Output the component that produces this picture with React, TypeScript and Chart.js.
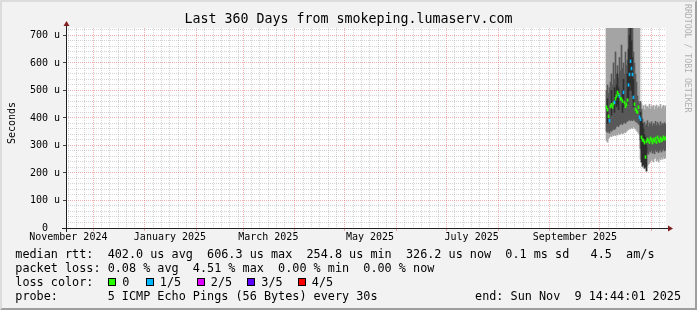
import React, { useEffect, useRef } from 'react';
import { Chart, registerables } from 'chart.js';

Chart.register(...registerables);

const MONO = "'DejaVu Sans Mono', monospace";

// ---- text ----
const TITLE = 'Last 360 Days from smokeping.lumaserv.com';
const Y_AXIS_TITLE = 'Seconds';
const WATERMARK = 'RRDTOOL / TOBI OETIKER';
const legendLine1 = 'median rtt:  402.0 us avg  606.3 us max  254.8 us min  326.2 us now  0.1 ms sd   4.5  am/s';
const legendLine2 = 'packet loss: 0.08 % avg  4.51 % max  0.00 % min  0.00 % now';
const lossTitle = 'loss color:';
const lossLabels = ['0', '1/5', '2/5', '3/5', '4/5'];
const lossColors = ['#26ff00', '#00b8ff', '#dd00ff', '#5e00ff', '#ff0000'];
const probeLine = 'probe:       5 ICMP Echo Pings (56 Bytes) every 30s';
const endLine = 'end: Sun Nov  9 14:44:01 2025';

// ---- time axis ----
const END_UTC = Date.UTC(2025, 10, 9, 14, 44, 1);
const SPAN_DAYS = 360;
const DAY_MS = 86400000;
const START_UTC = END_UTC - SPAN_DAYS * DAY_MS;

const monthStarts = [
  '2024-11-01', '2024-12-01', '2025-01-01', '2025-02-01', '2025-03-01', '2025-04-01',
  '2025-05-01', '2025-06-01', '2025-07-01', '2025-08-01', '2025-09-01', '2025-10-01', '2025-11-01',
];
const minorDaysOfMonth = [6, 11, 16, 21, 26];
const labelledMonths = ['2024-11-01', '2025-01-01', '2025-03-01', '2025-05-01', '2025-07-01', '2025-09-01'];
const monthLabels = ['November 2024', 'January 2025', 'March 2025', 'May 2025', 'July 2025', 'September 2025'];
const LABEL_DAY_OF_MONTH = 16;

// ---- value axis (microseconds) ----
const Y_MAX = 727;
const yTickValues = [0, 20, 40, 60, 80, 100, 120, 140, 160, 180, 200, 220, 240, 260, 280, 300, 320, 340, 360, 380, 400,
  420, 440, 460, 480, 500, 520, 540, 560, 580, 600, 620, 640, 660, 680, 700, 720];
const Y_LABEL_STEP = 100;

// ---- samples (one per consolidated step, values in us) ----
const FIRST_SAMPLE_DAY = 324.3;
const SAMPLE_STEP_DAYS = 0.6;

const lightLo = [318, 312, 325, 330, 335, 332, 338, 335, 340, 336, 342, 338, 345, 340, 343, 347, 342, 345, 350, 346,
  352, 355, 358, 362, 360, 365, 362, 368, 365, 360, 355, 350, 345, 340,
  250, 238, 222, 228, 215, 220, 205, 226, 232, 236, 242, 250, 246, 240, 252, 256, 244, 250, 240, 254, 248, 256, 250, 258, 252, 256];
const lightHi = [905, 880, 920, 870, 940, 890, 910, 875, 930, 900, 885, 950, 895, 915, 880, 925, 900, 870, 935, 905,
  890, 945, 910, 880, 960, 900, 920, 875, 905, 890, 930, 880, 915, 870,
  440, 452, 435, 445, 430, 448, 438, 442, 436, 450, 432, 444, 438, 446, 430, 441, 447, 435, 443, 438, 449, 433, 440, 446, 437, 444];
const darkLo = [352, 348, 350, 345, 355, 352, 356, 360, 358, 362, 370, 372, 368, 375, 378, 380, 376, 382, 384, 380,
  386, 388, 392, 395, 390, 394, 390, 396, 392, 388, 385, 382, 378, 375,
  290, 280, 260, 250, 255, 262, 270, 275, 268, 280, 276, 284, 272, 280, 270, 285, 278, 282, 274, 280, 286, 276, 282, 288, 280, 284];
const darkHi = [500, 520, 490, 510, 530, 560, 520, 600, 540, 640, 560, 590, 545, 620, 570, 665, 580, 600, 560, 640,
  590, 610, 800, 800, 800, 800, 800, 640, 600, 560, 530, 480, 460, 450,
  460, 430, 395, 380, 385, 372, 378, 390, 368, 382, 376, 386, 370, 380, 375, 388, 372, 384, 378, 370, 386, 374, 380, 376, 383, 378];
const coreLo = [null, 380, null, null, null, 410, null, null, 420, null, 440, 450, 430, null, null, null, 420, 440, null, null,
  null, 450, 470, 500, 520, 500, 480, 440, null, null, null, null, null, null,
  320, 240, 225, 230, 218, 222, 208, null, null, null, null, null, null, null, null, null, null, null, null, null, null, null, null, null, null, null];
const coreHi = [null, 470, null, null, null, 500, null, null, 510, null, 520, 560, 510, null, null, null, 500, 540, null, null,
  null, 560, 650, 700, 760, 680, 620, 540, null, null, null, null, null, null,
  420, 400, 380, 360, 340, 330, 300, null, null, null, null, null, null, null, null, null, null, null, null, null, null, null, null, null, null, null];
const median = [439, 430, 406, 390, 442, 448, 440, 452, 457, 470, 480, 493, 485, 479, 470, 468, 461, 493, 455, 442,
  450, 465, 520, 558, 606, 580, 558, 475, 450, 432, 425, 421, 439, 403,
  395, 330, 320, 318, 310, 258, 315, 322, 318, 312, 326, 320, 310, 322, 316, 325, 312, 330, 320, 315, 326, 318, 322, 330, 324, 326];
const lossLevel = [0, 0, 0, 1, 0, 0, 0, 0, 1, 0, 0, 0, 0, 1, 0, 0, 0, 1, 0, 0,
  0, 0, 1, 1, 1, 1, 1, 1, 0, 0, 0, 0, 0, 1,
  1, 0, 0, 0, 0, 0, 0, 0, 0, 0, 0, 0, 0, 0, 0, 0, 0, 0, 0, 0, 0, 0, 0, 0, 0, 0];
const MEDIAN_MARK_HALF = 5;

// ---- colours ----
const BACK = '#f2f2f2';
const SHADE_A = '#dcdcdc';
const SHADE_B = '#9e9e9e';
const CANVAS = '#ffffff';
const GRID = 'rgba(143,143,143,0.38)';
const MGRID = 'rgba(222,79,79,0.45)';
const AXIS = '#1f1f1f';
const ARROW = '#801f1f';
const SMOKE_LIGHT = '#a4a4a4';
const SMOKE_DARK = '#585858';
const SMOKE_CORE = '#2e2e2e';

// ---- derived ----
const dayOf = (iso: string, dom: number) => {
  const [y, m] = iso.split('-').map(Number);
  return (Date.UTC(y, m - 1, dom) - START_UTC) / DAY_MS;
};
type XTick = { value: number; kind: 'major' | 'minor'; label: string };
const xTicks: XTick[] = [];
monthStarts.forEach((iso) => {
  const v = dayOf(iso, 1);
  if (v > 0 && v < SPAN_DAYS) xTicks.push({ value: v, kind: 'major', label: '' });
  const li = labelledMonths.indexOf(iso);
  minorDaysOfMonth.forEach((d) => {
    const mv = dayOf(iso, d);
    if (mv > 0 && mv < SPAN_DAYS) {
      xTicks.push({ value: mv, kind: 'minor', label: d === LABEL_DAY_OF_MONTH && li >= 0 ? monthLabels[li] : '' });
    }
  });
});
xTicks.sort((a, b) => a.value - b.value);

const sampleX = median.map((_, i) => FIRST_SAMPLE_DAY + i * SAMPLE_STEP_DAYS);
const band = (lo: (number | null)[], hi: (number | null)[]) =>
  lo.map((v, i) => (v == null || hi[i] == null ? null : { x: sampleX[i], y: [v, hi[i]] })).filter(Boolean);

const barCommon = {
  type: 'bar' as const,
  grouped: false,
  barPercentage: 1,
  categoryPercentage: 1,
  borderWidth: 0,
};

const rrdPlugin = {
  id: 'rrdFrame',
  beforeDraw(chart: any) {
    const { ctx, chartArea: a, width: w, height: h } = chart;
    ctx.save();
    ctx.fillStyle = BACK;
    ctx.fillRect(0, 0, w, h);
    ctx.fillStyle = SHADE_A;
    ctx.beginPath();
    ctx.moveTo(0, h); ctx.lineTo(2, h - 2); ctx.lineTo(2, 2); ctx.lineTo(w - 2, 2); ctx.lineTo(w, 0); ctx.lineTo(0, 0);
    ctx.closePath(); ctx.fill();
    ctx.fillStyle = SHADE_B;
    ctx.beginPath();
    ctx.moveTo(2, h - 2); ctx.lineTo(w - 2, h - 2); ctx.lineTo(w - 2, 2); ctx.lineTo(w, 0); ctx.lineTo(w, h); ctx.lineTo(0, h);
    ctx.closePath(); ctx.fill();
    ctx.fillStyle = CANVAS;
    ctx.fillRect(a.left, a.top, a.right - a.left, a.bottom - a.top);
    ctx.restore();
  },
  afterDraw(chart: any) {
    const { ctx, chartArea: a, width: w } = chart;
    const ax = a.left + 0.5;
    const ay = a.bottom + 0.5;
    ctx.save();
    // axes
    ctx.strokeStyle = AXIS;
    ctx.lineWidth = 1;
    ctx.beginPath();
    ctx.moveTo(a.left - 4, ay); ctx.lineTo(a.right + 4, ay);
    ctx.moveTo(ax, a.bottom + 4); ctx.lineTo(ax, a.top - 4);
    ctx.stroke();
    // arrows
    ctx.fillStyle = ARROW;
    ctx.beginPath();
    ctx.moveTo(a.right + 2, ay - 3); ctx.lineTo(a.right + 2, ay + 3); ctx.lineTo(a.right + 7, ay); ctx.closePath(); ctx.fill();
    ctx.beginPath();
    ctx.moveTo(ax - 3, a.top - 2); ctx.lineTo(ax + 3, a.top - 2); ctx.lineTo(ax, a.top - 7); ctx.closePath(); ctx.fill();

    // title
    ctx.fillStyle = '#000';
    ctx.font = `13.3px ${MONO}`;
    ctx.textAlign = 'center';
    ctx.textBaseline = 'middle';
    ctx.fillText(TITLE, w / 2, 20);

    // y axis title
    ctx.font = `10px ${MONO}`;
    ctx.textAlign = 'center';
    ctx.textBaseline = 'alphabetic';
    ctx.save();
    ctx.translate(15, 123);
    ctx.rotate(-Math.PI / 2);
    ctx.fillText(Y_AXIS_TITLE, 0, 0);
    ctx.restore();

    // watermark
    ctx.save();
    ctx.fillStyle = '#b0b0b0';
    ctx.font = `8.2px ${MONO}`;
    ctx.textAlign = 'left';
    ctx.translate(684.5, 4);
    ctx.rotate(Math.PI / 2);
    ctx.fillText(WATERMARK, 0, 0);
    ctx.restore();

    // legend
    const LX = 15.3;
    const base = [257.5, 271.7, 285.8, 300];
    ctx.fillStyle = '#000';
    ctx.font = `11.8px ${MONO}`;
    ctx.textAlign = 'left';
    ctx.fillText(legendLine1, LX, base[0]);
    ctx.fillText(legendLine2, LX, base[1]);
    ctx.fillText(lossTitle, LX, base[2]);
    const boxX = [108, 145.5, 196.5, 247, 297.5];
    lossLabels.forEach((lab, i) => {
      const bx = Math.round(boxX[i]);
      ctx.fillStyle = lossColors[i];
      ctx.fillRect(bx, 278, 8, 8);
      ctx.strokeStyle = '#000';
      ctx.lineWidth = 1;
      ctx.strokeRect(bx + 0.5, 278.5, 7, 7);
      ctx.fillStyle = '#000';
      ctx.fillText(lab, boxX[i] + 14.3, base[2]);
    });
    ctx.fillText(probeLine, LX, base[3]);
    ctx.textAlign = 'right';
    ctx.fillText(endLine, 681, base[3]);
    ctx.restore();
  },
};

export default function App() {
  const ref = useRef<HTMLCanvasElement | null>(null);
  useEffect(() => {
    if (!ref.current) return;
    const chart = new Chart(ref.current, {
      type: 'bar',
      data: {
        datasets: [
          { ...barCommon, label: 'median', order: 1, data: median.map((m, i) => ({ x: sampleX[i], y: [m - MEDIAN_MARK_HALF, m + MEDIAN_MARK_HALF] })), backgroundColor: lossLevel.map((l) => lossColors[l]) },
          { ...barCommon, label: 'core', order: 2, data: band(coreLo, coreHi), backgroundColor: SMOKE_CORE },
          { ...barCommon, label: 'smoke2', order: 3, data: band(darkLo, darkHi), backgroundColor: SMOKE_DARK },
          { ...barCommon, label: 'smoke1', order: 4, data: band(lightLo, lightHi), backgroundColor: SMOKE_LIGHT },
        ] as any,
      },
      plugins: [rrdPlugin],
      options: {
        responsive: false,
        animation: false,
        devicePixelRatio: 1,
        events: [],
        layout: { padding: { left: 0, right: 31, top: 28, bottom: 0 } },
        plugins: {
          legend: { display: false },
          tooltip: { enabled: false },
          title: { display: false },
        },
        scales: {
          x: {
            type: 'linear',
            min: 0,
            max: SPAN_DAYS,
            offset: false,
            z: 1,
            afterBuildTicks: (s: any) => { s.ticks = xTicks.map((t) => ({ value: t.value })); },
            afterFit: (s: any) => { s.height = 82; },
            grid: {
              offset: false,
              color: (c: any) => (xTicks[c.index] && xTicks[c.index].kind === 'major' ? MGRID : GRID),
              tickColor: (c: any) => (xTicks[c.index] && xTicks[c.index].kind === 'major' ? MGRID : 'rgba(0,0,0,0)'),
              lineWidth: 1,
              drawTicks: true,
              tickLength: 3,
            },
            border: { display: false, dash: [1, 1] },
            ticks: {
              autoSkip: false,
              maxRotation: 0,
              minRotation: 0,
              padding: 0,
              color: '#000',
              font: { family: MONO, size: 10 },
              callback: (_v: any, i: number) => (xTicks[i] ? xTicks[i].label : ''),
            },
          },
          y: {
            type: 'linear',
            min: 0,
            max: Y_MAX,
            z: 1,
            afterBuildTicks: (s: any) => { s.ticks = yTickValues.map((v) => ({ value: v })); },
            afterFit: (s: any) => { s.width = 66; },
            grid: {
              color: (c: any) => (c.tick && c.tick.value % Y_LABEL_STEP === 0 ? MGRID : GRID),
              tickColor: (c: any) => (c.tick && c.tick.value % Y_LABEL_STEP === 0 ? '#444' : 'rgba(0,0,0,0)'),
              lineWidth: 1,
              drawTicks: true,
              tickLength: 3,
            },
            border: { display: false, dash: [1, 1] },
            ticks: {
              autoSkip: false,
              padding: 3,
              color: '#000',
              font: { family: MONO, size: 10 },
              callback: (v: any) => {
                const n = Number(v);
                if (n % Y_LABEL_STEP !== 0) return '';
                return n === 0 ? '0  ' : `${n} u`;
              },
            },
          },
        },
      } as any,
    });
    return () => chart.destroy();
  }, []);
  return (
    <div style={{ position: 'absolute', left: 0, top: 0, width: 697, height: 310 }}>
      <canvas ref={ref} width={697} height={310} style={{ display: 'block', width: 697, height: 310 }} />
    </div>
  );
}
